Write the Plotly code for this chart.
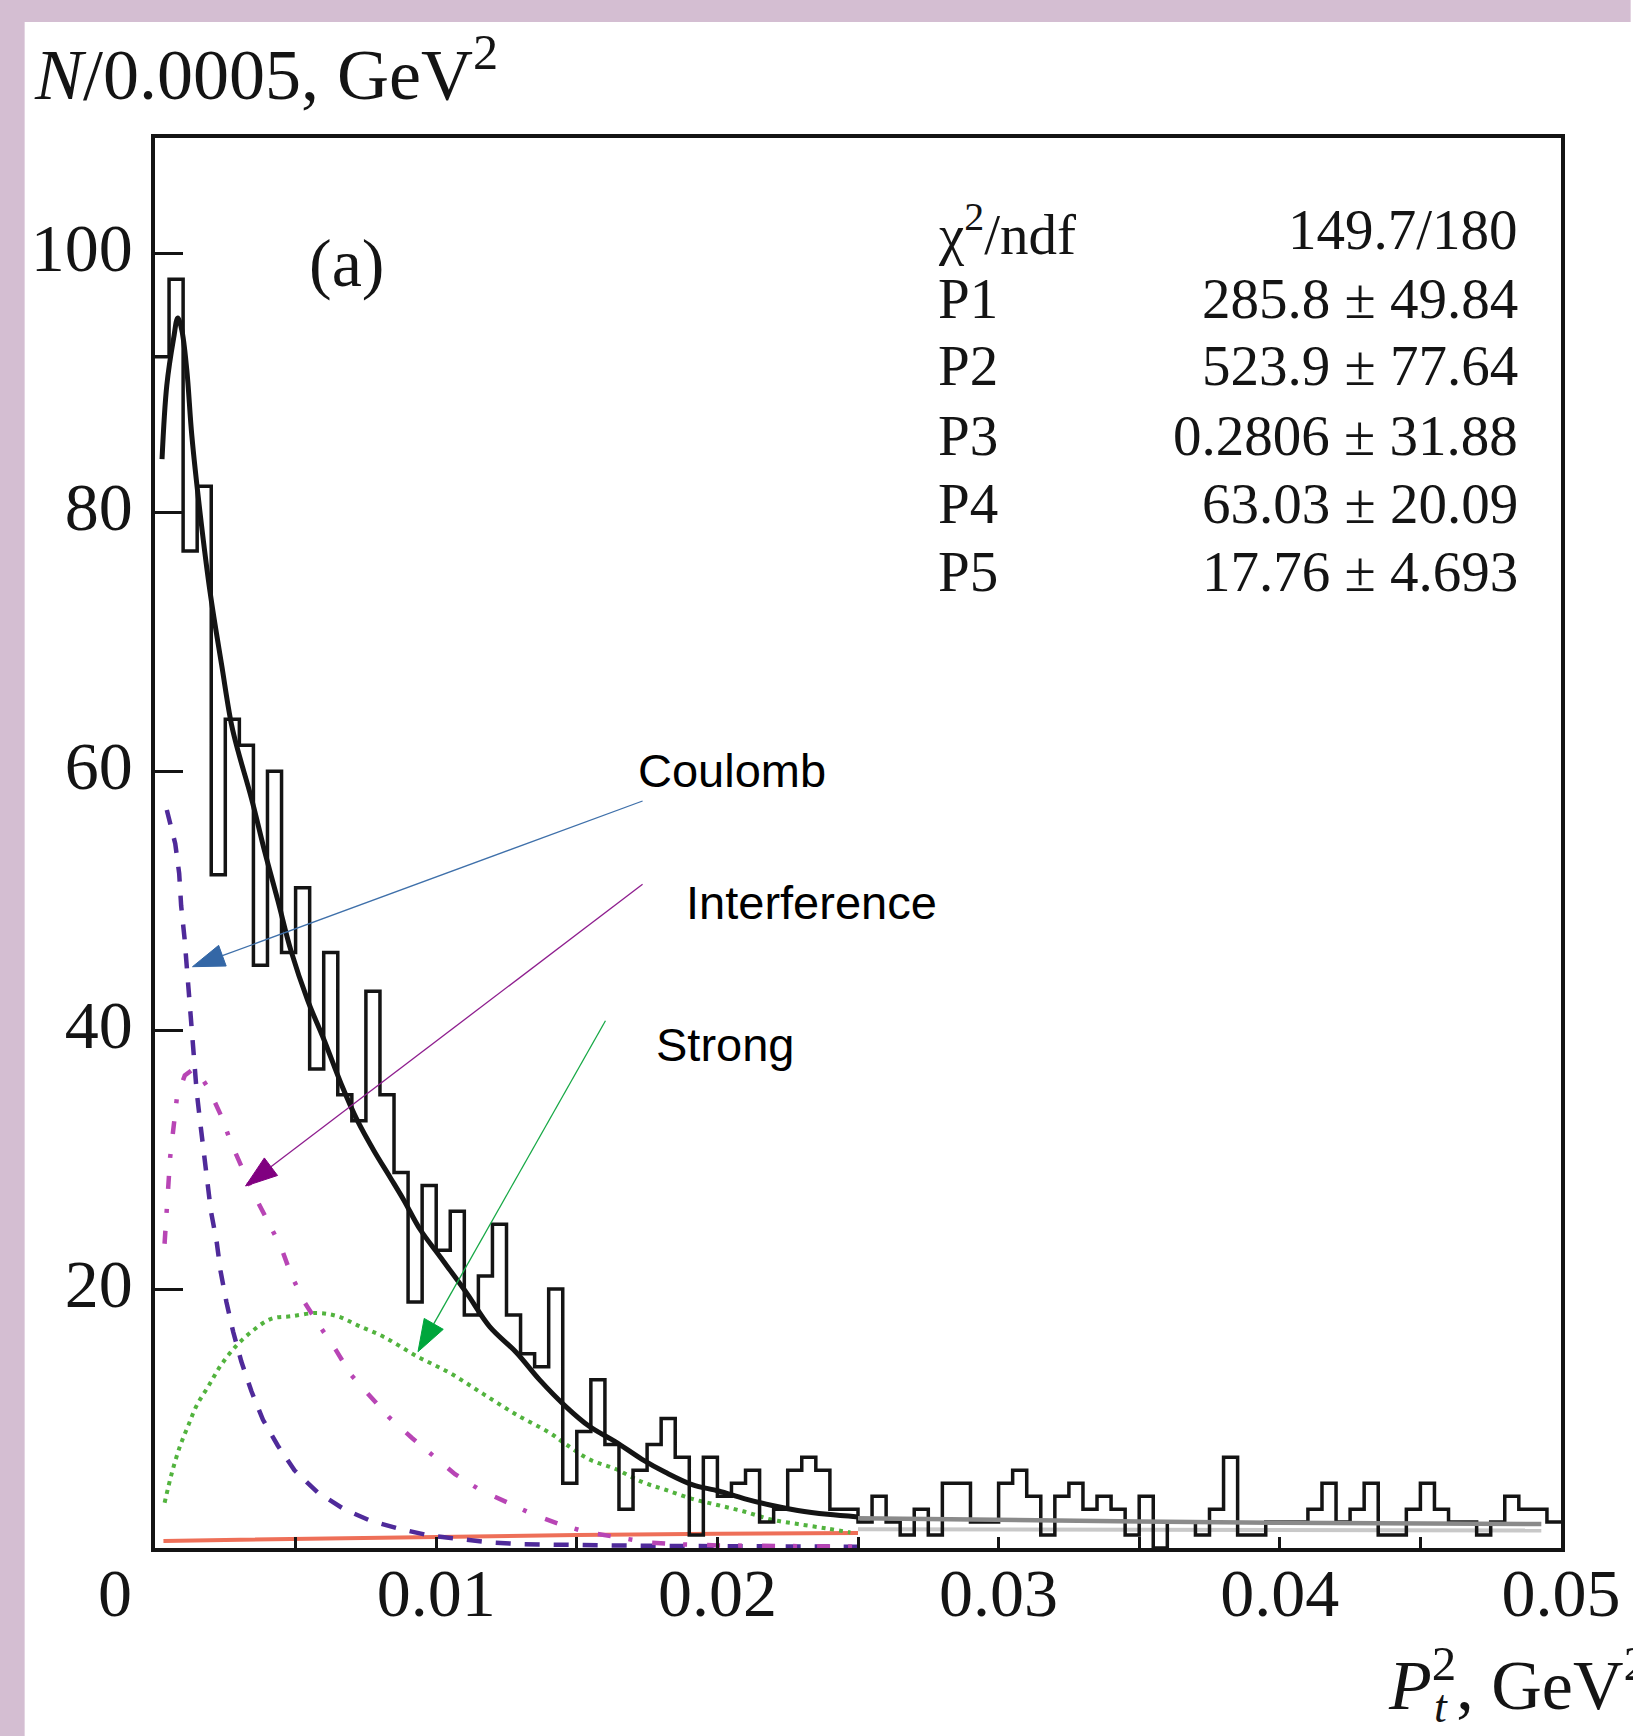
import math
import plotly.graph_objects as go

# ---------------- data ----------------
BIN_WIDTH = 0.0005
counts = [92, 98, 77, 82, 52, 64, 62, 45, 60, 46,
          51, 37, 46, 35, 33, 43, 35, 29, 19, 28,
          23, 26, 18, 21, 25, 18, 15, 14, 20, 5,
          9, 13, 8, 3, 6, 8, 10, 7, 1, 7,
          4, 5, 6, 2, 3, 6, 7, 6, 3, 3,
          2, 4, 2, 1, 3, 1, 5, 5, 2, 2,
          5, 6, 4, 1, 4, 5, 3, 4, 3, 1,
          4, 0, 2, 2, 1, 3, 7, 1, 1, 2,
          2, 2, 3, 5, 2, 3, 5, 1, 1, 3,
          5, 3, 2, 2, 1, 2, 4, 3, 3, 2]

fit_p = [0.00025, 0.00042, 0.00066, 0.00081, 0.00095, 0.00113, 0.00131, 0.0016, 0.00196, 0.00237,
         0.00272, 0.00296, 0.00343, 0.0039, 0.00437, 0.00484, 0.00543, 0.00602, 0.00661, 0.0072,
         0.00778, 0.00837, 0.00884, 0.00943, 0.01014, 0.01108, 0.0119, 0.01285, 0.01367, 0.01462,
         0.01544, 0.01638, 0.01732, 0.01815, 0.0191, 0.02004, 0.02098, 0.02191, 0.02286, 0.02392, 0.025]
fit_v = [84.1, 89.8, 93.4, 95.0, 94.1, 91.0, 85.9, 80.0, 73.8, 68.2,
         63.6, 61.5, 57.9, 53.8, 50.0, 46.1, 42.3, 39.2, 35.9, 33.0,
         30.7, 28.6, 26.9, 24.6, 22.5, 19.7, 17.1, 15.1, 13.0, 10.9,
         9.4, 8.2, 6.85, 5.85, 4.9, 4.4, 3.8, 3.3, 2.9, 2.6, 2.4]

coul_p = [0.00042, 0.00072, 0.00086, 0.00093, 0.00105, 0.00113, 0.00121, 0.00129, 0.00137, 0.00148,
          0.0016, 0.00172, 0.00184, 0.00199, 0.00219, 0.00233, 0.00254, 0.00278, 0.00307, 0.00343,
          0.00384, 0.00437, 0.00496, 0.00578, 0.00672, 0.00767, 0.00873, 0.00979, 0.01085, 0.0119,
          0.013, 0.014, 0.016, 0.019, 0.022, 0.025]
coul_v = [57.0, 54.4, 52.1, 49.6, 47.1, 44.8, 42.5, 40.1, 37.8, 35.3,
          33.0, 30.7, 28.4, 26.0, 23.7, 21.4, 19.0, 16.7, 14.4, 12.1,
          9.9, 7.9, 6.0, 4.3, 3.0, 2.1, 1.46, 0.95, 0.7, 0.44,
          0.3, 0.25, 0.2, 0.15, 0.12, 0.1]

intf_p = [0.00034, 0.00039, 0.00048, 0.00054, 0.00066, 0.00078, 0.00106, 0.00131, 0.0016, 0.0019,
          0.00237, 0.00272, 0.00313, 0.00357, 0.00402, 0.00449, 0.00484, 0.00531, 0.0059, 0.00643,
          0.00696, 0.00767, 0.00832, 0.00914, 0.0099, 0.01067, 0.01155, 0.0125, 0.01344, 0.01438,
          0.01538, 0.0164, 0.01745, 0.0184, 0.02, 0.0225, 0.025]
intf_v = [23.5, 25.8, 28.2, 30.2, 32.5, 34.8, 36.5, 36.9, 36.5, 35.5,
          33.3, 31.2, 29.2, 27.1, 25.2, 23.2, 21.1, 19.0, 17.0, 15.3,
          13.4, 11.7, 10.1, 8.5, 7.1, 5.7, 4.5, 3.5, 2.6, 1.85,
          1.2, 0.85, 0.45, 0.3, 0.2, 0.15, 0.1]

strong_p = [0.000342, 0.0006, 0.000895, 0.00119, 0.00148, 0.0019, 0.00231, 0.00284, 0.00343, 0.00413,
            0.00484, 0.00578, 0.00649, 0.0072, 0.00814, 0.00932, 0.0105, 0.01167, 0.01285, 0.01403,
            0.01462, 0.01544, 0.01638, 0.01732, 0.01815, 0.0191, 0.02004, 0.02098, 0.02191, 0.02286,
            0.02392, 0.02473]
strong_v = [3.5, 5.8, 7.9, 9.5, 11.0, 12.5, 14.0, 15.5, 16.7, 17.7,
            17.9, 18.15, 17.9, 17.2, 16.3, 14.8, 13.5, 11.9, 10.3, 8.9,
            8.0, 6.85, 6.1, 5.1, 4.5, 3.8, 3.3, 2.8, 2.2, 1.85,
            1.5, 1.2]

bkg_p = [0.0003, 0.005, 0.01, 0.015, 0.02, 0.025]
bkg_v = [0.55, 0.7, 0.85, 1.0, 1.1, 1.15]

ext_p = [0.025, 0.03, 0.035, 0.04, 0.045, 0.0493]
ext_v = [2.3, 2.15, 2.05, 1.95, 1.9, 1.85]
bext_p = [0.025, 0.0493]
bext_v = [1.45, 1.35]

x_tick_vals = [0.005, 0.01, 0.015, 0.02, 0.025, 0.03, 0.035, 0.04, 0.045, 0.05]
x_tick_text = [" ", "0.01", " ", "0.02", " ", "0.03", " ", "0.04", " ", "0.05"]
y_tick_vals = [20, 40, 60, 80, 100]
y_tick_text = ["20", "40", "60", "80", "100"]

stat_labels = ["χ<sup>2</sup>/ndf", "P1", "P2", "P3", "P4", "P5"]
stat_values = ["149.7/180", "285.8 ± 49.84", "523.9 ± 77.64", "0.2806 ± 31.88",
               "63.03 ± 20.09", "17.76 ± 4.693"]

# ---------------- geometry ----------------
W, H = 1633, 1736
ML, MR, MT, MB = 155, 65, 138, 188
PX0, PX1 = ML, W - MR          # plot x pixels
PY1, PY0 = MT, H - MB          # plot y pixels (top, bottom)
XMAX, YMAX = 0.05, 108.9


def px2x(px):
    return (px - PX0) / (PX1 - PX0) * XMAX


def py2y(py):
    return (PY0 - py) / (PY0 - PY1) * YMAX


def pxp(px):
    return (px - PX0) / (PX1 - PX0)


def pyp(py):
    return (PY0 - py) / (PY0 - PY1)


SERIF = "Liberation Serif, Times New Roman, serif"
SANS = "Liberation Sans, Arial, sans-serif"
INK = "#141414"

fig = go.Figure()

# components
fig.add_trace(go.Scatter(x=bkg_p, y=bkg_v, mode="lines",
                         line=dict(color="#EE6F58", width=4), hoverinfo="skip"))
fig.add_trace(go.Scatter(x=bext_p, y=bext_v, mode="lines",
                         line=dict(color="#C8C8C8", width=4), hoverinfo="skip"))
fig.add_trace(go.Scatter(x=coul_p, y=coul_v, mode="lines",
                         line=dict(color="#4F2A9A", width=4.5, dash="15px,14px"), hoverinfo="skip"))
fig.add_trace(go.Scatter(x=intf_p, y=intf_v, mode="lines",
                         line=dict(color="#B845B5", width=4.5, dash="13px,18px,4px,20px"),
                         hoverinfo="skip"))
fig.add_trace(go.Scatter(x=strong_p, y=strong_v, mode="lines", line_shape="spline",
                         line=dict(color="#52B33E", width=4, dash="4px,5px"), hoverinfo="skip"))

# histogram
edges = [i * BIN_WIDTH for i in range(len(counts) + 1)]
fig.add_trace(go.Scatter(x=edges, y=counts + [counts[-1]], mode="lines",
                         line=dict(color=INK, width=3.5, shape="hv"), hoverinfo="skip"))

# total fit
fig.add_trace(go.Scatter(x=ext_p, y=ext_v, mode="lines",
                         line=dict(color="#8A8A8A", width=4.5), hoverinfo="skip"))
fig.add_trace(go.Scatter(x=fit_p, y=fit_v, mode="lines", line_shape="spline",
                         line=dict(color=INK, width=5), hoverinfo="skip"))

annotations = []
# axis titles
annotations.append(dict(text="<i>N</i>/0.0005, GeV<sup>2</sup>", xref="paper", yref="paper",
                        x=pxp(31), y=pyp(70), xanchor="left", yanchor="middle", showarrow=False,
                        font=dict(family=SERIF, size=72, color=INK)))
annotations.append(dict(text="<i>P</i><sup>2</sup>, GeV<sup>2</sup>", xref="paper", yref="paper",
                        x=pxp(1392), y=pyp(1680), xanchor="left", yanchor="middle", showarrow=False,
                        font=dict(family=SERIF, size=70, color=INK)))
annotations.append(dict(text="<i>t</i>", xref="paper", yref="paper",
                        x=pxp(1438), y=pyp(1706), xanchor="left", yanchor="middle", showarrow=False,
                        font=dict(family=SERIF, size=46, color=INK)))
# lone zero label
annotations.append(dict(text="0", xref="paper", yref="paper", x=pxp(115), y=pyp(1593),
                        xanchor="center", yanchor="middle", showarrow=False,
                        font=dict(family=SERIF, size=68, color=INK)))
# panel label
annotations.append(dict(text="(a)", xref="paper", yref="paper", x=pxp(347), y=pyp(263),
                        xanchor="center", yanchor="middle", showarrow=False,
                        font=dict(family=SERIF, size=68, color=INK)))
# stats box
row_centers = [230, 298, 365.5, 436, 503.5, 571]
for lab, val, rc in zip(stat_labels, stat_values, row_centers):
    annotations.append(dict(text=lab, xref="paper", yref="paper", x=pxp(940), y=pyp(rc),
                            xanchor="left", yanchor="middle", showarrow=False,
                            font=dict(family=SERIF, size=57, color=INK)))
    annotations.append(dict(text=val, xref="paper", yref="paper", x=pxp(1527), y=pyp(rc),
                            xanchor="right", yanchor="middle", showarrow=False,
                            font=dict(family=SERIF, size=57, color=INK)))
# component labels
for txt, lx, cy in [("Coulomb", 638, 770), ("Interference", 687, 902), ("Strong", 656, 1044)]:
    annotations.append(dict(text=txt, xref="paper", yref="paper", x=pxp(lx), y=pyp(cy),
                            xanchor="left", yanchor="middle", showarrow=False,
                            font=dict(family=SANS, size=47, color="#000000")))

# arrows (thin line + slender filled head)
shapes = []
arrows = [((645, 801), (192.7, 966.7), "#3F70AA", "#3467A6"),
          ((645, 884.3), (246, 1186), "#8E1E8E", "#800080"),
          ((607.7, 1020.7), (419.3, 1351.7), "#16A845", "#00A63C")]
HEAD_L, HEAD_W = 32, 11
for (tx, ty), (hx, hy), lc, hc in arrows:
    dx, dy = hx - tx, hy - ty
    n = math.hypot(dx, dy)
    ux, uy = dx / n, dy / n
    bx, by = hx - HEAD_L * ux, hy - HEAD_L * uy
    nx, ny = -uy, ux
    shapes.append(dict(type="line", xref="x", yref="y", x0=px2x(tx), y0=py2y(ty),
                       x1=px2x(bx), y1=py2y(by), line=dict(color=lc, width=1.3)))
    p1 = (bx + HEAD_W * nx, by + HEAD_W * ny)
    p2 = (bx - HEAD_W * nx, by - HEAD_W * ny)
    path = "M{},{} L{},{} L{},{} Z".format(px2x(hx), py2y(hy), px2x(p1[0]), py2y(p1[1]),
                                           px2x(p2[0]), py2y(p2[1]))
    shapes.append(dict(type="path", xref="x", yref="y", path=path, fillcolor=hc,
                       line=dict(color=hc, width=1)))

# lilac page border strips (left and top)
LILAC = "#D4BED2"
shapes.append(dict(type="rect", xref="paper", yref="paper", x0=pxp(-5), x1=pxp(24),
                   y0=pyp(H + 5), y1=pyp(-5), fillcolor=LILAC, line=dict(width=0), layer="below"))
shapes.append(dict(type="rect", xref="paper", yref="paper", x0=pxp(-5), x1=pxp(W + 5),
                   y0=pyp(22), y1=pyp(-5), fillcolor=LILAC, line=dict(width=0), layer="below"))

fig.update_layout(
    width=W, height=H,
    margin=dict(l=ML, r=MR, t=MT, b=MB, pad=0),
    paper_bgcolor="white", plot_bgcolor="white",
    showlegend=False,
    annotations=annotations,
    shapes=shapes,
    xaxis=dict(range=[0, XMAX], showline=True, mirror=True, linecolor=INK, linewidth=3.5,
               ticks="inside", ticklen=11, tickwidth=3, tickcolor=INK,
               tickmode="array", tickvals=x_tick_vals, ticktext=x_tick_text,
               tickfont=dict(family=SERIF, size=68, color=INK), ticklabelstandoff=-17,
               showgrid=False, zeroline=False),
    yaxis=dict(range=[0, YMAX], showline=True, mirror=True, linecolor=INK, linewidth=3.5,
               ticks="inside", ticklen=28, tickwidth=3, tickcolor=INK,
               tickmode="array", tickvals=y_tick_vals, ticktext=y_tick_text,
               tickfont=dict(family=SERIF, size=68, color=INK), ticklabelstandoff=5,
               ticklabelshift=-6, showgrid=False, zeroline=False),
)

fig.write_html("out.html", include_plotlyjs=True, config={"displayModeBar": False})
